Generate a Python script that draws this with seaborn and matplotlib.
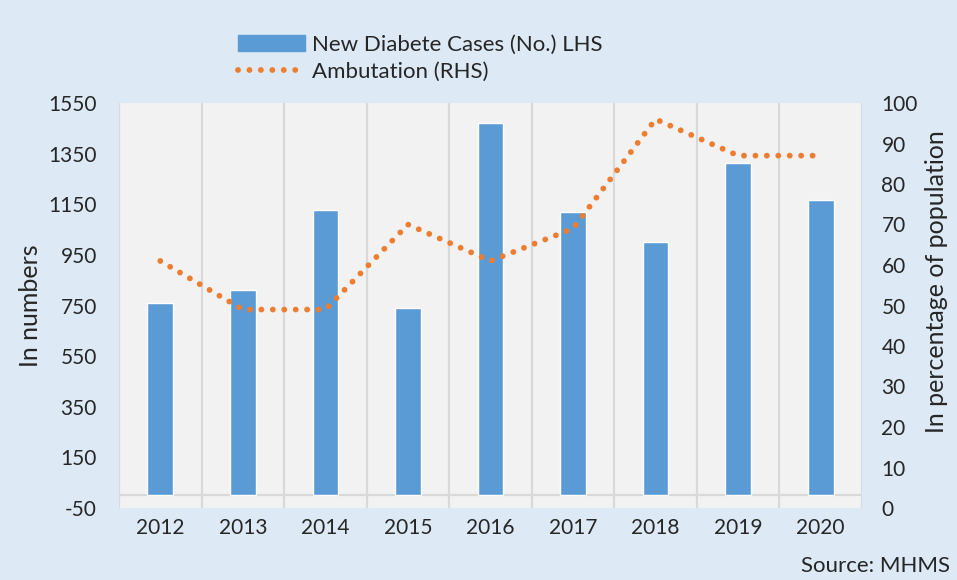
import numpy as np
import pandas as pd
import matplotlib
matplotlib.use("Agg")
import matplotlib.pyplot as plt
import seaborn as sns
from matplotlib.patches import Patch
from matplotlib.lines import Line2D

years = ["2012", "2013", "2014", "2015", "2016", "2017", "2018", "2019", "2020"]
new_cases = [760, 811, 1127, 740, 1471, 1119, 1001, 1313, 1167]
amputation = [61, 49, 49, 70, 61, 69, 96, 87, 87]
left_ticks = [-50, 150, 350, 550, 750, 950, 1150, 1350, 1550]
right_ticks = [0, 10, 20, 30, 40, 50, 60, 70, 80, 90, 100]

sns.set_theme(style="white")
plt.rcParams["font.family"] = ["Lato", "DejaVu Sans"]

BG = "#dde9f5"
BAR = "#5b9bd5"
LINE = "#ed7d31"
GRID = "#d9d9d9"
TXT = "#262626"

df = pd.DataFrame({"year": years, "cases": new_cases, "amp": amputation,
                   "pos": np.arange(len(years))})

fig = plt.figure(figsize=(9.57, 5.80), dpi=100, facecolor=BG)
ax = fig.add_axes([119/957, 1-508/580, (862-119)/957, (508-103)/580])
ax.set_facecolor("#f2f2f2")

sns.barplot(data=df, x="year", y="cases", color=BAR, width=0.31,
            saturation=1, ax=ax, zorder=3)
for i in range(len(years) + 1):
    ax.axvline(i - 0.5, color=GRID, lw=1.6, zorder=1)
ax.axhline(0, color=GRID, lw=1.6, zorder=1)
ax.set_xlim(-0.5, len(years) - 0.5)
ax.set_ylim(-50, 1550)
ax.set_yticks(left_ticks)
ax.set_yticklabels([str(t) for t in left_ticks])
ax.set_xlabel("")
ax.set_ylabel("In numbers", fontsize=18, color=TXT)
ax.yaxis.set_label_coords((42-119)/743, 0.5)
ax.tick_params(axis="y", length=0, pad=16, labelsize=15, labelcolor=TXT)
ax.tick_params(axis="x", length=0, pad=7, labelsize=15, labelcolor=TXT)
for s in ax.spines.values():
    s.set_visible(False)

ax2 = ax.twinx()
sns.lineplot(data=df, x="pos", y="amp", color=LINE, lw=4.2, ax=ax2,
             linestyle=(0, (0.01, 1.95)), dash_capstyle="round", zorder=4)
ax2.set_ylim(0, 100)
ax2.set_yticks(right_ticks)
ax2.set_yticklabels([str(t) for t in right_ticks])
ax2.set_xlim(-0.5, len(years) - 0.5)
ax2.set_ylabel("In percentage of population", fontsize=18, color=TXT)
ax2.yaxis.set_label_coords((925-119)/743, (508-282)/405)
ax2.tick_params(axis="y", length=0, pad=14, labelsize=15, labelcolor=TXT)
ax2.set_xlabel("")
for s in ax2.spines.values():
    s.set_visible(False)

handles = [Patch(facecolor=BAR, edgecolor=BAR),
           Line2D([0], [0], color=LINE, lw=4.2, linestyle=(0, (0.01, 1.95)),
                  dash_capstyle="round")]
labels = ["New Diabete Cases (No.) LHS", "Ambutation (RHS)"]
fig.legend(handles, labels, loc="upper left", bbox_to_anchor=(218/957, 1-15/580),
           frameon=False, fontsize=16, handlelength=3.0, handletextpad=0.35,
           labelspacing=0.3, labelcolor=TXT)

fig.text(950/957, 1-566/580, "Source: MHMS", ha="right", va="center",
         fontsize=16, color=TXT)

fig.savefig("out.png", dpi=100, facecolor=BG)
